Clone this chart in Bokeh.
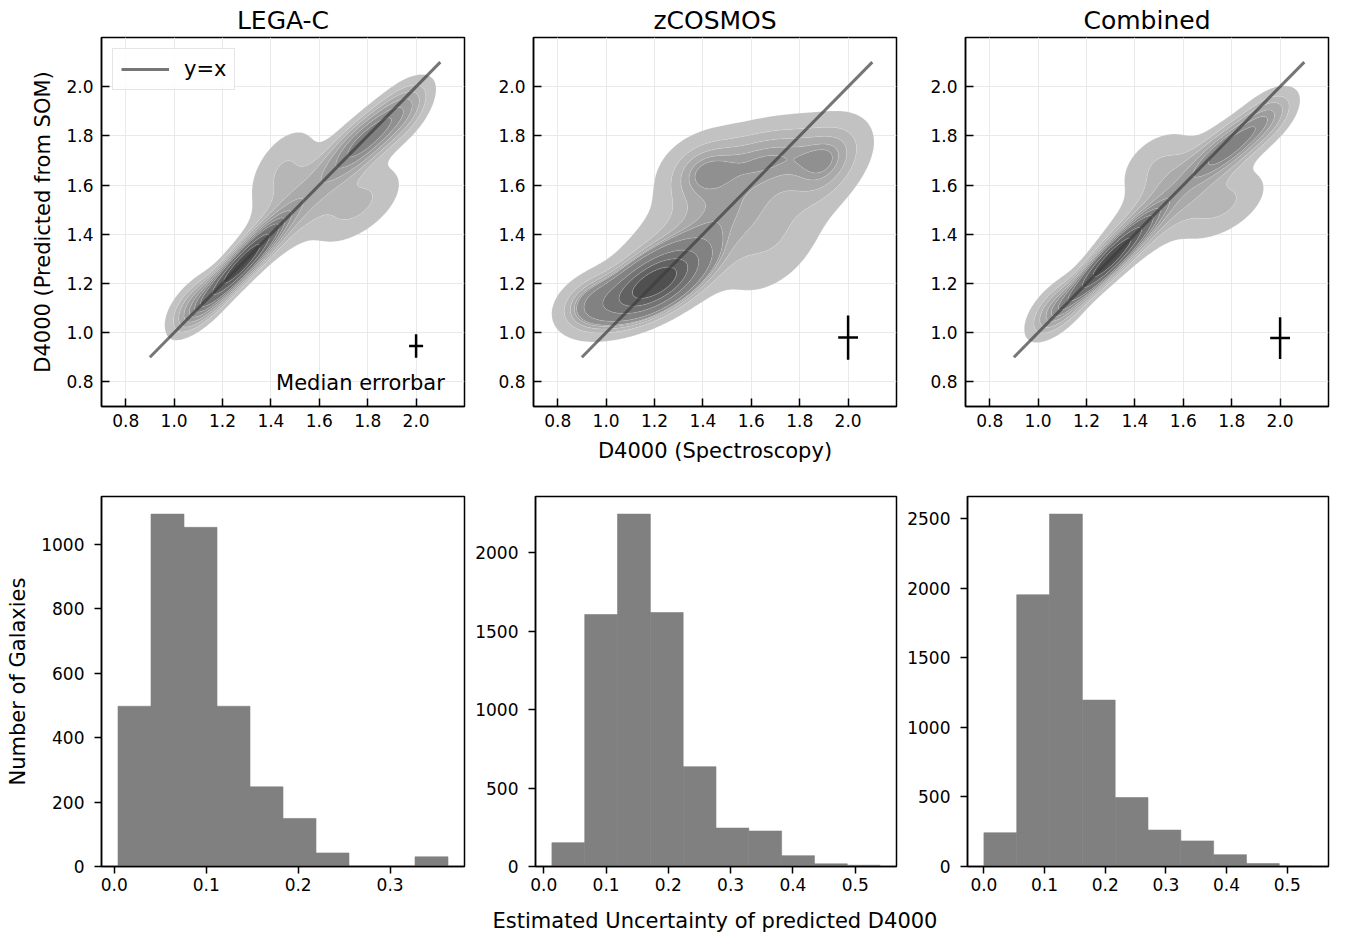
import numpy as np
from bokeh.plotting import figure
from bokeh.layouts import column, row
from bokeh.models import FixedTicker
from bokeh.core.properties import value
from bokeh.embed import file_html
from bokeh.resources import INLINE

FONT = "DejaVu Sans"

# ------------------------------------------------------------------ data
titles = ["LEGA-C", "zCOSMOS", "Combined"]
d4000_ticks = [0.8, 1.0, 1.2, 1.4, 1.6, 1.8, 2.0]
d4000_tick_labels = ["0.8", "1.0", "1.2", "1.4", "1.6", "1.8", "2.0"]
d4000_lims = (0.7, 2.2)
onetoone_x = [0.9, 2.1]
onetoone_y = [0.9, 2.1]

# median error bars: centre and half lengths
err_x = [2.0, 2.0, 2.0]
err_y = [0.946, 0.980, 0.978]
err_dx = [0.029, 0.041, 0.041]
err_dy = [0.048, 0.090, 0.085]
err_note = "Median errorbar"
err_note_x = 1.77
err_note_y = 0.795

# density (KDE) shape, as blobs:
# weight, centre x, centre y, sd x, sd y, correlation
legac_w   = [0.40, 0.22, 0.13, 0.06, 0.08, 0.07, 0.04]
legac_mx  = [1.28, 1.80, 1.50, 1.45, 1.75, 1.10, 1.95]
legac_my  = [1.28, 1.79, 1.50, 1.66, 1.52, 1.12, 1.90]
legac_sx  = [0.095, 0.11, 0.15, 0.09, 0.12, 0.07, 0.07]
legac_sy  = [0.100, 0.10, 0.15, 0.11, 0.10, 0.07, 0.08]
legac_r   = [0.92, 0.82, 0.85, 0.50, 0.55, 0.60, 0.50]

zcos_w    = [0.39, 0.10, 0.25, 0.06, 0.06, 0.06, 0.05]
zcos_mx   = [1.20, 1.67, 1.45, 0.95, 1.92, 1.70, 1.38]
zcos_my   = [1.20, 1.73, 1.45, 1.12, 1.68, 1.35, 1.65]
zcos_sx   = [0.12, 0.20, 0.24, 0.09, 0.10, 0.14, 0.10]
zcos_sy   = [0.085, 0.09, 0.19, 0.07, 0.11, 0.14, 0.09]
zcos_r    = [0.60, 0.30, 0.72, 0.30, 0.40, 0.50, 0.30]

comb_w    = [0.38, 0.18, 0.18, 0.06, 0.08, 0.07, 0.04]
comb_mx   = [1.30, 1.80, 1.50, 1.50, 1.75, 1.08, 1.95]
comb_my   = [1.30, 1.76, 1.50, 1.68, 1.52, 1.10, 1.88]
comb_sx   = [0.10, 0.11, 0.16, 0.10, 0.12, 0.07, 0.07]
comb_sy   = [0.10, 0.09, 0.15, 0.09, 0.09, 0.07, 0.07]
comb_r    = [0.92, 0.80, 0.85, 0.40, 0.50, 0.60, 0.50]

kde_fill = ["#c2c2c2", "#b6b6b6", "#aaaaaa", "#9d9d9d", "#909090",
            "#828282", "#737373", "#626262", "#505050"]

# histograms of estimated uncertainty (10 bins each)
legac_err_lo, legac_err_hi = 0.004, 0.363
legac_counts = [497, 1093, 1052, 497, 247, 149, 42, 0, 0, 30]
zcos_err_lo, zcos_err_hi = 0.013, 0.540
zcos_counts = [152, 1606, 2246, 1619, 636, 245, 226, 69, 17, 8]
comb_err_lo, comb_err_hi = 0.000, 0.541
comb_counts = [243, 1955, 2535, 1197, 496, 262, 184, 85, 21, 2]

hist_xticks = [[0.0, 0.1, 0.2, 0.3],
               [0.0, 0.1, 0.2, 0.3, 0.4, 0.5],
               [0.0, 0.1, 0.2, 0.3, 0.4, 0.5]]
hist_xtick_labels = [["0.0", "0.1", "0.2", "0.3"],
                     ["0.0", "0.1", "0.2", "0.3", "0.4", "0.5"],
                     ["0.0", "0.1", "0.2", "0.3", "0.4", "0.5"]]
hist_yticks = [[0, 200, 400, 600, 800, 1000],
               [0, 500, 1000, 1500, 2000],
               [0, 500, 1000, 1500, 2000, 2500]]

# ------------------------------------------------------------------ layout
FW, FH = 363, 370
col_left = [101, 61, 61]
col_right = [8, 8, 2]
row1_top, row1_bottom = 36, 62
row2_top, row2_bottom = 28, 32
strip_h = 34
strip_base = 12


def style(p, tin, tout):
    for ax in (p.xaxis[0], p.yaxis[0]):
        ax.major_tick_in = tin
        ax.major_tick_out = tout
        ax.minor_tick_line_color = None
        ax.major_tick_line_width = 1.5
        ax.major_tick_line_color = "black"
        ax.axis_line_width = 1.5
        ax.axis_line_color = "black"
        ax.major_label_text_font = FONT
        ax.major_label_text_font_size = "17px"
        ax.major_label_text_color = "black"
        ax.axis_label_text_font = FONT
        ax.axis_label_text_font_size = "21px"
        ax.axis_label_text_font_style = "normal"
        ax.axis_label_text_color = "black"
    p.outline_line_color = "black"
    p.outline_line_width = 1.5
    p.outline_line_alpha = 1.0


def density(gx, gy, w, mx, my, sx, sy, r):
    X, Y = np.meshgrid(gx, gy)
    Z = np.zeros_like(X)
    for wi, a, b, s1, s2, ri in zip(w, mx, my, sx, sy, r):
        dx = (X - a) / s1
        dy = (Y - b) / s2
        q = (dx * dx - 2 * ri * dx * dy + dy * dy) / (1 - ri * ri)
        Z += wi * np.exp(-0.5 * q) / (2 * np.pi * s1 * s2 * np.sqrt(1 - ri * ri))
    return Z


def iso_levels(Z, n=10, thresh=0.05):
    props = np.linspace(thresh, 1, n)
    vals = np.sort(Z.ravel())[::-1]
    cum = np.cumsum(vals) / vals.sum()
    idx = np.searchsorted(cum, 1 - props)
    lev = np.take(vals, idx, mode="clip").astype(float)
    lev[-1] = Z.max() * 1.0001
    return lev


blobs = [
    (legac_w, legac_mx, legac_my, legac_sx, legac_sy, legac_r),
    (zcos_w, zcos_mx, zcos_my, zcos_sx, zcos_sy, zcos_r),
    (comb_w, comb_mx, comb_my, comb_sx, comb_sy, comb_r),
]

gx = np.linspace(0.7, 2.2, 301)
gy = np.linspace(0.7, 2.2, 301)

top = []
for i in range(3):
    p = figure(width=col_left[i] + FW + col_right[i],
               height=row1_top + FH + row1_bottom,
               x_range=d4000_lims, y_range=d4000_lims,
               min_border_left=col_left[i], min_border_right=col_right[i],
               min_border_top=row1_top, min_border_bottom=row1_bottom,
               output_backend="svg", toolbar_location=None, tools="")
    style(p, 8, 0)
    p.xaxis.ticker = FixedTicker(ticks=d4000_ticks)
    p.yaxis.ticker = FixedTicker(ticks=d4000_ticks)
    p.xaxis.major_label_overrides = dict(zip(d4000_ticks, d4000_tick_labels))
    p.yaxis.major_label_overrides = dict(zip(d4000_ticks, d4000_tick_labels))
    p.xaxis.major_label_standoff = 7
    p.yaxis.major_label_standoff = 8
    p.xaxis.axis_label_standoff = 9
    p.yaxis.axis_label_standoff = 8
    p.grid.grid_line_color = "#e9e9e9"
    p.grid.grid_line_width = 1

    p.title.text = titles[i]
    p.title.align = "center"
    p.title.text_font = FONT
    p.title.text_font_size = "25px"
    p.title.text_font_style = "normal"
    p.title.text_color = "black"
    p.title.standoff = 6

    Z = density(gx, gy, *blobs[i])
    lev = iso_levels(Z)
    p.contour(x=gx, y=gy, z=Z, levels=lev, fill_color=kde_fill,
              line_color="white", line_alpha=0.3, line_width=0.6)

    if i == 0:
        p.line(onetoone_x, onetoone_y, line_color="#3c3c3c", line_alpha=0.7,
               line_width=3, legend_label="y=x")
    else:
        p.line(onetoone_x, onetoone_y, line_color="#3c3c3c", line_alpha=0.7,
               line_width=3)

    p.segment(x0=[err_x[i] - err_dx[i]], y0=[err_y[i]],
              x1=[err_x[i] + err_dx[i]], y1=[err_y[i]],
              line_color="black", line_width=2.5)
    p.segment(x0=[err_x[i]], y0=[err_y[i] - err_dy[i]],
              x1=[err_x[i]], y1=[err_y[i] + err_dy[i]],
              line_color="black", line_width=2.5)

    if i == 0:
        p.text(x=[err_note_x], y=[err_note_y], text=[err_note],
               text_align="center", text_baseline="alphabetic",
               text_font=value(FONT), text_font_size="21px", text_color="black")
        p.yaxis.axis_label = "D4000 (Predicted from SOM)"
        lg = p.legend[0]
        lg.location = "top_left"
        lg.margin = 11
        lg.padding = 8
        lg.glyph_width = 48
        lg.glyph_height = 22
        lg.label_height = 22
        lg.label_standoff = 15
        lg.label_text_font = FONT
        lg.label_text_font_size = "21px"
        lg.label_text_color = "black"
        lg.border_line_color = "#cccccc"
        lg.border_line_width = 1.5
        lg.background_fill_alpha = 0.85
    if i == 1:
        p.xaxis.axis_label = "D4000 (Spectroscopy)"
    top.append(p)

hists = [
    (legac_err_lo, legac_err_hi, legac_counts),
    (zcos_err_lo, zcos_err_hi, zcos_counts),
    (comb_err_lo, comb_err_hi, comb_counts),
]

bottom = []
for i in range(3):
    lo, hi, counts = hists[i]
    edges = np.linspace(lo, hi, len(counts) + 1)
    span = hi - lo
    xr = (lo - 0.05 * span, hi + 0.05 * span)
    yr = (0, max(counts) * 1.05)
    p = figure(width=col_left[i] + FW + col_right[i],
               height=row2_top + FH + row2_bottom,
               x_range=xr, y_range=yr,
               min_border_left=col_left[i], min_border_right=col_right[i],
               min_border_top=row2_top, min_border_bottom=row2_bottom,
               output_backend="svg", toolbar_location=None, tools="")
    style(p, 0, 7)
    p.grid.grid_line_color = None
    p.xaxis.ticker = FixedTicker(ticks=hist_xticks[i])
    p.xaxis.major_label_overrides = dict(zip(hist_xticks[i], hist_xtick_labels[i]))
    p.yaxis.ticker = FixedTicker(ticks=hist_yticks[i])
    p.yaxis.major_label_overrides = {t: str(t) for t in hist_yticks[i]}
    p.xaxis.major_label_standoff = 4
    p.yaxis.major_label_standoff = 10
    p.yaxis.axis_label_standoff = 8
    p.quad(left=edges[:-1], right=edges[1:], bottom=0, top=counts,
           fill_color="#808080", line_color="#808080", line_width=0.6)
    if i == 0:
        p.yaxis.axis_label = "Number of Galaxies"
    bottom.append(p)

# shared x label for the bottom row (wider than one panel)
total_w = sum(col_left) + 3 * FW + sum(col_right)
strip = figure(width=total_w, height=strip_h, x_range=(0, total_w), y_range=(0, strip_h),
               min_border=0, x_axis_type=None, y_axis_type=None,
               output_backend="svg", toolbar_location=None, tools="")
strip.outline_line_color = None
strip.grid.grid_line_color = None
mid_center = col_left[0] + FW + col_right[0] + col_left[1] + FW / 2
strip.text(x=[mid_center], y=[strip_base], text=["Estimated Uncertainty of predicted D4000"],
           text_align="center", text_baseline="alphabetic",
           text_font=value(FONT), text_font_size="21px", text_color="black")

layout = column(row(*top, spacing=0), row(*bottom, spacing=0), strip, spacing=0)
open("out.html", "w").write(file_html(layout, INLINE))
